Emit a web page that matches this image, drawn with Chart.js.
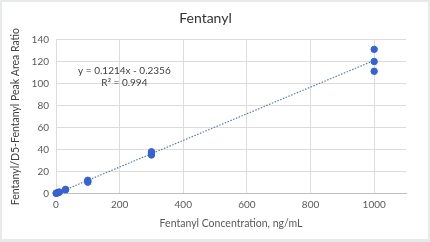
<!DOCTYPE html>
<html>
<head>
<meta charset="utf-8">
<script src="https://cdn.jsdelivr.net/npm/chart.js@4/dist/chart.umd.min.js"></script>
<style>
  html, body { margin: 0; padding: 0; background: #e6eaea; }
  #frame { position: absolute; left: 2px; top: 2px; width: 426px; height: 237px; background: #fff; }
  canvas { display: block; }
</style>
</head>
<body>
<div id="frame"><canvas id="chart" width="426" height="237"></canvas></div>
<script>
// measured points (concentration ng/mL, peak area ratio)
const concentrations = [0.5, 1, 2, 5, 10, 10, 30, 30, 100, 100, 100, 300, 300, 300, 1000, 1000, 1000];
const areaRatios = [0.1, 0.2, 0.3, 0.5, 1.0, 1.3, 3.2, 3.7, 10.2, 11.0, 12.0, 35.0, 36.5, 38.0, 111.3, 120.2, 131.3];
const trendX = [0, 1000];
const trendY = [-0.24, 121.16];
const xTicks = [0, 200, 400, 600, 800, 1000];
const yTicks = [0, 20, 40, 60, 80, 100, 120, 140];
const equationLines = ["y = 0.1214x - 0.2356", "R² = 0.994"];

const font = "Lato, 'Open Sans', sans-serif";
const textColor = "#595959";

const points = concentrations.map((x, i) => ({ x: x, y: areaRatios[i] }));
const trend = trendX.map((x, i) => ({ x: x, y: trendY[i] }));

const equationLabel = {
    id: "equationLabel",
    afterDatasetsDraw(chart) {
        const { ctx, scales } = chart;
        const cx = scales.x.getPixelForValue(215);
        const cy = scales.y.getPixelForValue(112);
        ctx.save();
        ctx.font = "10px " + font;
        ctx.fillStyle = "#404040";
        ctx.textAlign = "center";
        ctx.textBaseline = "middle";
        equationLines.forEach((line, i) => ctx.fillText(line, cx, cy + i * 12));
        ctx.restore();
    },
};

new Chart(document.getElementById("chart"), {
    type: "scatter",
    data: {
        datasets: [
            {
                label: "Fentanyl",
                data: points,
                backgroundColor: "#3363d8",
                borderColor: "#3363d8",
                pointRadius: 3.2,
                pointHoverRadius: 3.2,
                clip: false,
            },
            {
                label: "Linear",
                type: "line",
                data: trend,
                borderColor: "#5b7ca8",
                borderWidth: 1.2,
                borderDash: [1.5, 1.5],
                pointRadius: 0,
                fill: false,
            },
        ],
    },
    options: {
        responsive: false,
        animation: false,
        layout: { padding: { top: 4, right: 22, bottom: 5, left: 3 } },
        plugins: {
            legend: { display: false },
            tooltip: { enabled: false },
            title: {
                display: true,
                text: "Fentanyl",
                color: "#333333",
                font: { family: font, size: 14, weight: "normal" },
                padding: { top: 4, bottom: 13 },
            },
        },
        scales: {
            x: {
                type: "linear",
                min: 0,
                max: 1100,
                afterBuildTicks: (axis) => {
                    axis.ticks = xTicks.map((v) => ({ value: v }));
                },
                ticks: {
                    color: textColor,
                    font: { family: font, size: 10 },
                    padding: 5,
                    callback: (v) => String(v),
                },
                grid: { color: "#dcdcdc", drawTicks: false },
                border: { color: "#bfbfbf" },
                title: {
                    display: true,
                    text: "Fentanyl Concentration, ng/mL",
                    color: textColor,
                    font: { family: font, size: 10.5 },
                    padding: { top: 2 },
                },
            },
            y: {
                min: 0,
                max: 140,
                afterBuildTicks: (axis) => {
                    axis.ticks = yTicks.map((v) => ({ value: v }));
                },
                ticks: { color: textColor, font: { family: font, size: 10 }, padding: 7 },
                grid: { color: "#dcdcdc", drawTicks: false },
                border: { display: false },
                title: {
                    display: true,
                    text: "Fentanyl/D5-Fentanyl Peak Area Ratio",
                    color: "#404040",
                    font: { family: font, size: 10.5 },
                    padding: { bottom: 3 },
                },
            },
        },
    },
    plugins: [equationLabel],
});
</script>
</body>
</html>
